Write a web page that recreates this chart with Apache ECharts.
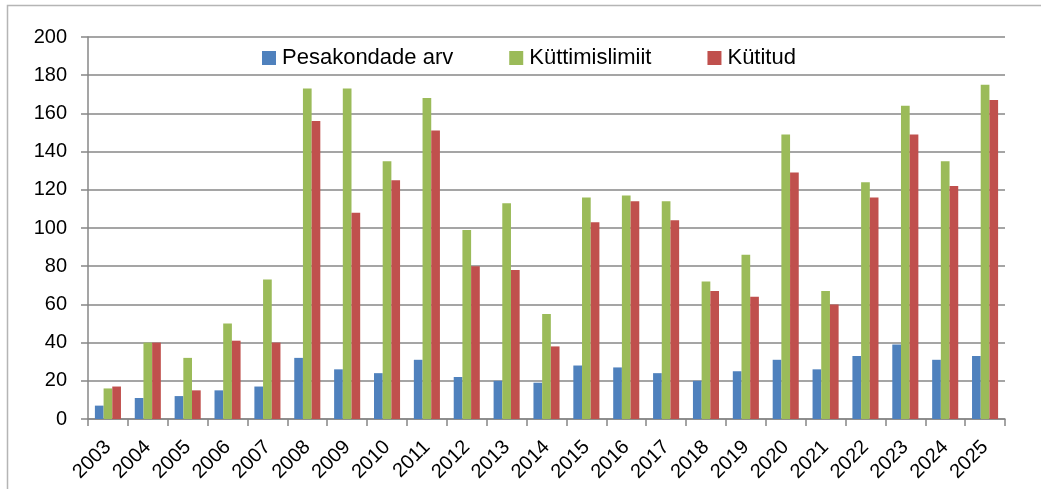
<!DOCTYPE html>
<html>
<head>
<meta charset="utf-8">
<script src="https://cdn.jsdelivr.net/npm/echarts@6/dist/echarts.min.js"></script>
<style>
  html, body { margin: 0; padding: 0; background: #ffffff; }
  #chart { width: 1041px; height: 489px; }
</style>
</head>
<body>
<div id="chart"></div>
<script>
// Hunting statistics by year
const years = ['2003','2004','2005','2006','2007','2008','2009','2010','2011','2012','2013','2014',
               '2015','2016','2017','2018','2019','2020','2021','2022','2023','2024','2025'];
const pesakondadeArv = [7, 11, 12, 15, 17, 32, 26, 24, 31, 22, 20, 19, 28, 27, 24, 20, 25, 31, 26, 33, 39, 31, 33];
const kyttimislimiit = [16, 40, 32, 50, 73, 173, 173, 135, 168, 99, 113, 55, 116, 117, 114, 72, 86, 149, 67, 124, 164, 135, 175];
const kytitud = [17, 40, 15, 41, 40, 156, 108, 125, 151, 80, 78, 38, 103, 114, 104, 67, 64, 129, 60, 116, 149, 122, 167];
const seriesNames = ['Pesakondade arv', 'Küttimislimiit', 'Kütitud'];
const yTicks = { min: 0, max: 200, interval: 20 };

const FONT = '"Liberation Sans", Arial, sans-serif';
const colors = ['#4F81BD', '#9BBB59', '#C0504D'];
const gridGray = '#878787';

const chart = echarts.init(document.getElementById('chart'), null, { renderer: 'canvas' });

function barSeries(name, data, color) {
  return {
    name: name,
    type: 'bar',
    data: data,
    barWidth: '21.8%',
    barGap: '0%',
    itemStyle: { color: color },
    emphasis: { disabled: true }
  };
}

chart.setOption({
  animation: false,
  backgroundColor: '#ffffff',
  color: colors,
  textStyle: { fontFamily: FONT },
  graphic: [{
    type: 'rect',
    shape: { x: 7.5, y: 5.5, width: 1100, height: 600 },
    style: { fill: 'none', stroke: '#b5b5b5', lineWidth: 1.5 },
    silent: true,
    z: -1
  }],
  legend: {
    data: seriesNames,
    left: 257,
    top: 42,
    itemWidth: 14,
    itemHeight: 14,
    itemGap: 56,
    icon: 'rect',
    textStyle: { fontSize: 22, color: '#000', fontFamily: FONT, padding: [0, 0, 0, 1] },
    selectedMode: false
  },
  grid: { left: 88, right: 36, top: 37, bottom: 70, containLabel: false },
  xAxis: {
    type: 'category',
    data: years,
    axisLine: { show: true, lineStyle: { color: gridGray, width: 1.5 } },
    axisTick: { show: true, length: 7, lineStyle: { color: gridGray, width: 1.5 } },
    axisLabel: { rotate: 45, fontSize: 20, color: '#000', margin: 25, fontFamily: FONT, interval: 0 }
  },
  yAxis: {
    type: 'value',
    min: yTicks.min,
    max: yTicks.max,
    interval: yTicks.interval,
    axisLine: { show: true, lineStyle: { color: gridGray, width: 1.5 } },
    axisTick: { show: true, length: 7, lineStyle: { color: gridGray, width: 1.5 } },
    axisLabel: { fontSize: 20, color: '#000', margin: 21, fontFamily: FONT },
    splitLine: { show: true, lineStyle: { color: gridGray, width: 1.5 } }
  },
  series: [
    barSeries(seriesNames[0], pesakondadeArv, colors[0]),
    barSeries(seriesNames[1], kyttimislimiit, colors[1]),
    barSeries(seriesNames[2], kytitud, colors[2])
  ]
});
</script>
</body>
</html>
